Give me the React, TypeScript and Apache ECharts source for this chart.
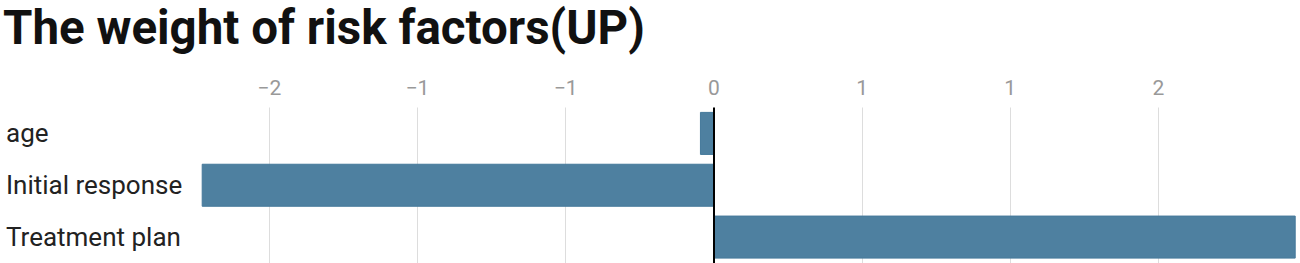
import React, { useEffect, useRef } from "react";
import * as echarts from "echarts";

const title = "The weight of risk factors(UP)";
const categories = ["age", "Initial response", "Treatment plan"];
const weights = [-0.047, -1.728, 1.963];
const tickValues = [-1.5, -1, -0.5, 0, 0.5, 1, 1.5];

function fmtTick(v: number): string {
  const r = Math.sign(v) * Math.round(Math.abs(v));
  if (r === 0) return "0";
  return r < 0 ? "\u2212" + Math.abs(r) : String(r);
}

export default function App() {
  const ref = useRef<HTMLDivElement>(null);
  useEffect(() => {
    if (!ref.current) return;
    const chart = echarts.init(ref.current, undefined, { renderer: "svg" });
    chart.setOption({
      animation: false,
      textStyle: { fontFamily: "Roboto" },
      title: {
        text: title,
        left: 3,
        top: 2,
        padding: 0,
        textStyle: { fontFamily: "Roboto", fontWeight: "bold", fontSize: 47.5, color: "#111", lineHeight: 52 },
      },
      grid: { left: 201.7, right: 4.3, top: 107.5, height: 156 },
      xAxis: {
        type: "value",
        position: "top",
        min: (e: any) => e.min,
        max: (e: any) => e.max,
        axisLine: { show: false },
        axisTick: { show: false },
        splitLine: { show: false },
        axisLabel: {
          customValues: tickValues,
          formatter: (v: number) => fmtTick(v),
          color: "#999",
          fontSize: 21,
          margin: 9,
          fontFamily: "Roboto",
        },
      },
      yAxis: {
        type: "category",
        inverse: true,
        data: categories,
        axisLine: { show: false, onZero: false },
        axisTick: { show: false },
        axisLabel: {
          align: "left",
          margin: 195.7,
          fontSize: 26,
          color: "#222",
          fontFamily: "Roboto",
        },
      },
      series: [
        {
          type: "bar",
          data: weights,
          barCategoryGap: "17%",
          itemStyle: { color: "#4e80a0", borderColor: "#45799b", borderWidth: 1 },
          z: 2,
          markLine: {
            z: 1,
            silent: true,
            symbol: "none",
            label: { show: false },
            lineStyle: { color: "#dddddd", width: 1, type: "solid" },
            data: tickValues.filter((v) => v !== 0).map((v) => ({ xAxis: v })),
          },
        },
        {
          type: "line",
          data: [],
          z: 10,
          markLine: {
            z: 10,
            silent: true,
            symbol: "none",
            label: { show: false },
            lineStyle: { color: "#000", width: 2, type: "solid" },
            data: [{ xAxis: 0 }],
          },
        },
      ],
    });
    return () => chart.dispose();
  }, []);
  return (
    <div
      ref={ref}
      style={{ position: "absolute", left: 0, top: 0, width: 1300, height: 263 }}
    />
  );
}
